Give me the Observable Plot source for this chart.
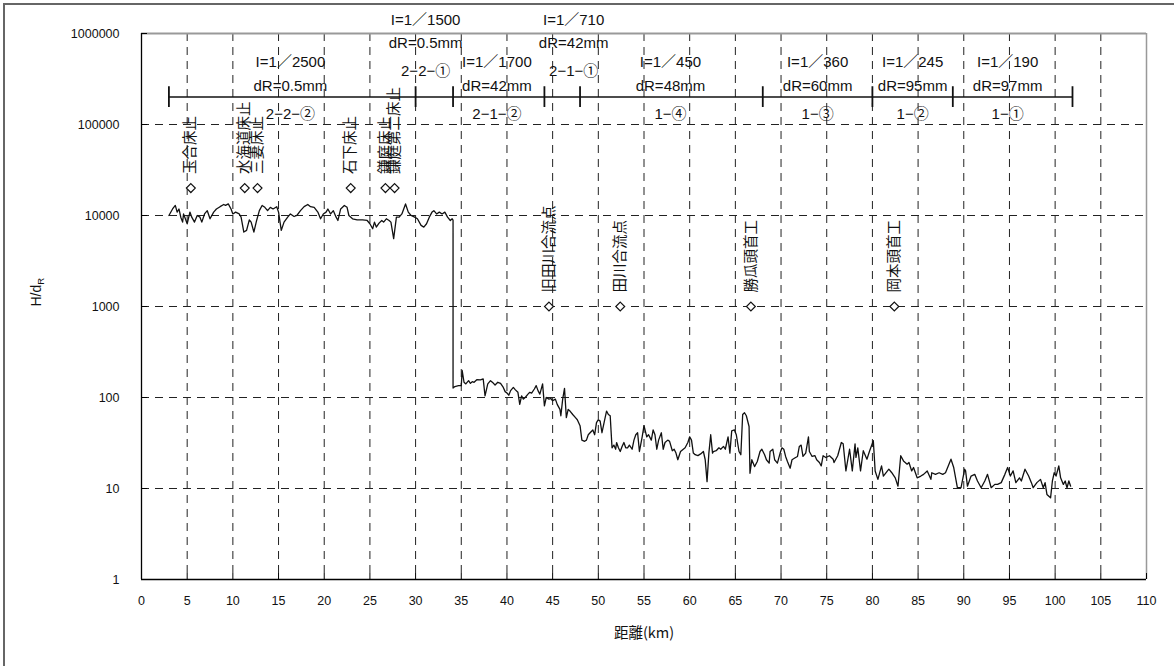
<!DOCTYPE html>
<html>
<head>
<meta charset="utf-8">
<script src="https://cdn.jsdelivr.net/npm/d3@7"></script>
<script src="https://cdn.jsdelivr.net/npm/@observablehq/plot@0.6"></script>
<style>
  html, body { margin: 0; padding: 0; background: #fff; }
  #wrap { position: relative; width: 1174px; height: 666px; overflow: hidden; }
  #chart svg { display: block; }
  #border { position: absolute; left: 3px; top: 3px; width: 1200px; height: 700px;
            border-left: 2px solid #666; border-top: 2px solid #666; pointer-events: none; }
</style>
</head>
<body>
<div id="wrap"><div id="chart"></div><div id="border"></div></div>
<script>
// Distance from the river mouth (km) and the H/dR ratio along the channel
const km = [
  3.0, 3.4, 3.7, 3.9, 4.1, 4.3, 4.5, 4.6, 4.8, 5.0, 5.3, 5.5, 5.8, 6.1, 6.4, 6.6, 6.9, 7.2, 7.5, 7.9,
  8.2, 8.6, 9.0, 9.2, 9.5, 9.8, 10.0, 10.3, 10.7, 10.9, 11.2, 11.5, 11.8, 12.0, 12.3, 12.6, 12.9, 13.2, 13.5, 13.8,
  14.1, 14.4, 14.8, 15.0, 15.3, 15.6, 16.0, 16.3, 16.7, 17.0, 17.4, 17.8, 18.2, 18.5, 18.9, 19.3, 19.6, 19.9, 20.2, 20.4,
  20.7, 21.0, 21.3, 21.5, 21.8, 22.2, 22.5, 22.7, 23.1, 23.6, 24.2, 24.7, 25.0, 25.3, 25.5, 25.7, 26.0, 26.3, 26.5, 26.8,
  27.1, 27.3, 27.6, 27.9, 28.2, 28.5, 28.9, 29.2, 29.5, 29.9, 30.2, 30.6, 30.9, 31.2, 31.5, 31.8, 32.0, 32.3, 32.6, 32.9,
  33.2, 33.5, 33.8, 34.0, 34.1,
  34.1, 34.3, 34.7, 35.0, 35.1, 35.3, 35.5, 35.8, 36.0, 36.2, 36.4, 36.7, 37.1, 37.4, 37.6, 37.9, 38.2, 38.5, 38.7, 39.0,
  39.3, 39.6, 39.8, 40.0, 40.2, 40.4, 40.7, 40.9, 41.2, 41.4, 41.6, 41.8, 42.0, 42.3, 42.5, 42.7, 43.0, 43.2, 43.4, 43.6,
  43.8, 43.9, 44.1, 44.3, 44.6, 44.8, 45.0, 45.3, 45.5, 45.8, 45.9, 46.1, 46.3, 46.5, 46.7, 46.9, 47.2, 47.5, 47.7, 48.0,
  48.2, 48.5, 48.7, 48.9, 49.1, 49.4, 49.6, 49.8, 50.0, 50.2, 50.4, 50.7, 50.9, 51.1, 51.3, 51.5, 51.7, 51.9, 52.0, 52.2,
  52.4, 52.6, 52.8, 53.0, 53.2, 53.4, 53.7, 53.9, 54.1, 54.3, 54.5, 54.8, 55.0, 55.3, 55.5, 55.8, 56.0, 56.2, 56.4, 56.6,
  56.9, 57.1, 57.3, 57.6, 57.8, 58.1, 58.3, 58.5, 58.7, 59.0, 59.3, 59.5, 59.8, 60.0, 60.2, 60.4, 60.6, 60.9, 61.2, 61.5,
  61.7, 61.9, 62.1, 62.3, 62.5, 62.6, 62.9, 63.2, 63.4, 63.7, 63.9, 64.2, 64.4, 64.6, 64.9, 65.1, 65.4, 65.6, 65.8, 66.0,
  66.2, 66.5, 66.6, 66.8, 67.1, 67.4, 67.7, 67.9, 68.2, 68.4, 68.7, 68.8, 69.1, 69.3, 69.6, 69.9, 70.1, 70.3, 70.5, 70.7,
  71.0, 71.2, 71.5, 71.8, 72.0, 72.2, 72.4, 72.7, 73.0, 73.1, 73.4, 73.7, 73.9, 74.2,
  74.4, 74.6, 74.9, 75.3, 75.7, 75.8, 76.2, 76.6, 76.8, 77.1, 77.5, 77.8, 78.1, 78.2, 78.4, 78.7, 79.0, 79.4, 79.7, 80.1,
  80.3, 80.6, 81.0, 81.2, 81.8, 82.1, 82.5, 82.8, 83.1, 83.4, 83.8, 84.0, 84.3, 84.5, 84.9, 85.3, 85.6, 86.0, 86.4, 86.5,
  86.9, 87.3, 87.7, 88.0, 88.6, 88.9, 89.3, 89.7, 90.1, 90.2, 90.4, 90.8, 91.2, 91.5, 91.9, 92.3, 92.6, 93.0, 93.4, 93.7,
  94.1, 94.5, 94.8, 95.1, 95.4, 95.7, 96.1, 96.3, 96.7, 97.1, 97.4, 97.6, 98.0, 98.4, 98.7, 98.9, 99.1, 99.5, 99.7, 99.9,
  100.1, 100.4, 100.6, 100.9, 101.1, 101.3, 101.5, 101.7
];
const hdr = [
  10000, 11800, 12900, 10900, 11800, 9590, 8460, 10400, 9200, 8110, 10900, 9590, 8460, 10000, 9590, 8460, 10400, 11300, 9200, 10900,
  11800, 12500, 13200, 12900, 13400, 11800, 10400, 10900, 10400, 9590, 6580, 6860, 8970, 8460, 6580, 8820, 11300, 12900, 12300, 11300,
  12300, 11800, 12500, 10900, 6860, 8460, 9590, 10400, 9750, 10000, 11300, 12500, 13200, 12500, 12300, 10900, 9200, 10400, 10900, 11800,
  10400, 11300, 9590, 8820, 11800, 12900, 12300, 10000, 9200, 8970, 8970, 8820, 8110, 7150, 8460, 7460, 8250, 8820, 8460, 9200,
  8820, 8460, 5560, 9590, 9590, 10400, 13400, 10900, 10000, 9590, 9200, 7780, 7460, 8110, 9590, 10900, 11300, 10400, 10900, 10400,
  10900, 9590, 8820, 9200, 8900,
  127, 132, 135, 135, 198, 147, 141, 153, 143, 149, 147, 157, 156, 160, 104, 141, 153, 144, 137, 147,
  143, 129, 116, 112, 106, 119, 129, 122, 114, 84, 104, 96, 100, 109, 114, 112, 124, 135, 119, 109,
  129, 141, 81, 100, 96, 97.5, 92, 96, 84, 74, 63, 96, 126, 60, 74, 71, 65, 60, 57, 49,
  34, 33, 34, 39, 41, 44, 39, 53, 57, 55, 41, 57, 71, 65, 63, 28, 30, 27, 32, 28,
  25.5, 29, 32, 28, 28, 30, 27, 34, 39, 41, 25.5, 37, 49, 37, 39, 34, 44, 39, 27, 34,
  41, 27, 32, 34, 33, 26, 27, 24.5, 20.7, 25.5, 27, 28, 32, 37, 34, 24.5, 23.5, 23, 24, 25.5,
  20.7, 11.9, 24.5, 39, 24.5, 25.5, 26, 28, 27, 29, 27, 37, 24.5, 43, 44, 39, 25.5, 23.5, 65, 68,
  63, 48, 14.7, 20.7, 17.4, 19.8, 25.5, 27, 23.5, 20.7, 19, 25.5, 27, 20.7, 19, 24.5, 28, 27, 22.5, 19.8,
  16.7, 20.7, 21.6, 22.5, 29, 30, 22.5, 24.5, 37, 25.5, 22.5, 23, 20.7, 19.3,
  17.7, 22.9, 21.9, 22.9, 21, 19.3, 22.9, 32, 31, 15.6, 27, 15.6, 31, 22, 28, 15.6, 26, 21, 26, 33.5,
  15.6, 12.6, 17.7, 13.7, 16.3, 15, 13.1, 10.6, 22.9, 20.1, 18.5, 19.3, 15.6, 17, 13.1, 13.7, 14.3, 15.6, 12.6, 14.9,
  14.3, 14.9, 14.3, 14.9, 21, 17, 10.2, 10.2, 16.3, 15.6, 10.6, 13.7, 14.3, 12.1, 10.2, 12.1, 14.3, 10.2, 11.1, 11.1,
  11.6, 14.3, 17, 13.7, 15.6, 11.6, 13.1, 12.1, 16.3, 13.7, 11.6, 10.2, 11.6, 12.6, 10.2, 11.6, 8.6, 7.9, 12.1, 14.9,
  13.7, 17.7, 13.1, 11.1, 12.1, 10.2, 12.1, 10.6
];

// Axis ticks
const xTicks = d3.range(0, 111, 5);
const yTicks = [1, 10, 100, 1000, 10000, 100000, 1000000];

// Reach segments: boundaries (km), bed slope, representative grain size, segment name
const sectionBounds = [3.0, 30.0, 34.1, 44.1, 48.0, 68.0, 80.0, 88.8, 101.9];
const sectionSlope = ["I=1／2500", "I=1／1500", "I=1／1700", "I=1／710", "I=1／450", "I=1／360", "I=1／245", "I=1／190"];
const sectionDr = ["dR=0.5mm", "dR=0.5mm", "dR=42mm", "dR=42mm", "dR=48mm", "dR=60mm", "dR=95mm", "dR=97mm"];
const sectionName = ["2−2−②", "2−2−①", "2−1−②", "2−1−①", "1−④", "1−③", "1−②", "1−①"];
const sectionLabelKm = [16.3, 31.1, 38.9, 47.3, 57.9, 74.0, 84.4, 94.8];
const sectionRaised = [false, true, false, true, false, false, false, false];
const sectionLevel = 2e5;
const rowLevels = { normal: [4.8e5, 2.65e5, 1.29e5], raised: [1.39e6, 7.8e5, 3.85e5] };

// Weirs / confluences / intake works along the river
const weirKm = [5.4, 11.3, 12.7, 22.9, 26.7, 27.7];
const weirName = ["玉合床止", "水海道床止", "三妻床止", "石下床止", "鎌庭床止", "鎌庭第二床止"];
const weirLevel = 2e4;
const pointKm = [44.6, 52.4, 66.7, 82.4];
const pointName = ["旧田川合流点", "田川合流点", "勝瓜頭首工", "岡本頭首工"];
const pointLevel = 1000;

const W = 1174, H = 666, ML = 141, MR = 28, MT = 33, MB = 87;
const innerW = W - ML - MR, innerH = H - MT - MB;

const series = km.map((k, i) => ({ km: k, v: hdr[i] }));
const sections = sectionName.map((n, i) => ({
  name: n, slope: sectionSlope[i], dr: sectionDr[i], x: sectionLabelKm[i],
  rows: sectionRaised[i] ? rowLevels.raised : rowLevels.normal
}));
const weirs = weirKm.map((k, i) => ({ km: k, name: weirName[i] }));
const points = pointKm.map((k, i) => ({ km: k, name: pointName[i] }));

const labelFont = "'Liberation Sans', 'Noto Sans CJK JP', sans-serif";
const cjkFont = "'Noto Sans CJK JP', sans-serif";
const dash = "8,6";

const chart = Plot.plot({
  width: W, height: H,
  marginLeft: ML, marginRight: MR, marginTop: MT, marginBottom: MB,
  x: { domain: [0, 110], axis: null },
  y: { type: "log", domain: [1, 1e6], axis: null },
  style: { fontFamily: labelFont, fontSize: "13px", color: "#111", background: "transparent", overflow: "visible" },
  marks: [
    // dashed grid
    Plot.ruleX(xTicks.filter(d => d > 0 && d < 110), { x: d => d, stroke: "#222", strokeWidth: 1, strokeDasharray: dash }),
    Plot.ruleY(yTicks.filter(d => d > 1 && d < 1e6), { y: d => d, stroke: "#222", strokeWidth: 1, strokeDasharray: dash }),
    // plot frame
    Plot.ruleY([1e6], { y: d => d, stroke: "#999", strokeWidth: 2 }),
    Plot.ruleX([110], { x: d => d, stroke: "#999", strokeWidth: 1.5 }),
    Plot.ruleX([0], { x: d => d, stroke: "#000", strokeWidth: 1.3 }),
    Plot.ruleY([1], { y: d => d, stroke: "#000", strokeWidth: 1.3 }),
    // inward tick marks
    Plot.tickY(yTicks, { y: d => d, insetRight: innerW - 6, stroke: "#000" }),
    Plot.tickX(xTicks, { x: d => d, insetTop: innerH - 6, stroke: "#000" }),
    Plot.axisX({ ticks: xTicks, tickSize: 0, tickPadding: 17, label: null, fontSize: 12.5 }),
    Plot.axisY({ ticks: yTicks, tickSize: 0, tickPadding: 22, label: null, fontSize: 12.5, tickFormat: d => String(d) }),
    // H/dR profile
    Plot.line(series, { x: "km", y: "v", stroke: "#111", strokeWidth: 1.3 }),
    // segment bar
    Plot.ruleY([sectionLevel], { y: d => d, x1: sectionBounds[0], x2: sectionBounds[sectionBounds.length - 1], stroke: "#111", strokeWidth: 1.5 }),
    Plot.ruleX(sectionBounds, { x: d => d, y1: sectionLevel / 1.3, y2: sectionLevel * 1.3, stroke: "#111", strokeWidth: 1.8 }),
    Plot.text(sections, { x: "x", y: d => d.rows[0], text: "slope", fontSize: 15, fontFamily: labelFont, fill: "#111" }),
    Plot.text(sections, { x: "x", y: d => d.rows[1], text: "dr", fontSize: 15, fontFamily: labelFont, fill: "#111" }),
    Plot.text(sections, { x: "x", y: d => d.rows[2], text: "name", fontSize: 15, fontFamily: labelFont, fill: "#111" }),
    // structures
    Plot.dot(weirs, { x: "km", y: d => weirLevel, symbol: "diamond2", r: 4, stroke: "#111", strokeWidth: 1.2, fill: "white" }),
    Plot.text(weirs, { x: "km", y: d => weirLevel, text: "name", rotate: -90, textAnchor: "start", dy: -14, fontSize: 14.5, fontFamily: cjkFont, fill: "#111" }),
    Plot.dot(points, { x: "km", y: d => pointLevel, symbol: "diamond2", r: 4, stroke: "#111", strokeWidth: 1.2, fill: "white" }),
    Plot.text(points, { x: "km", y: d => pointLevel, text: "name", rotate: -90, textAnchor: "start", dy: -14, fontSize: 14.5, fontFamily: cjkFont, fill: "#111" }),
    // axis titles
    Plot.text(["距離(km)"], { frameAnchor: "bottom", dy: 58, text: d => d, fontSize: 14.5, fontFamily: cjkFont, fill: "#111" }),
    Plot.text(["H/dR"], { frameAnchor: "left", dx: -105, rotate: -90, text: d => d, fontSize: 14, fontFamily: labelFont, fill: "#111" })
  ]
});

document.getElementById("chart").appendChild(chart);

// subscript R in the y-axis title
d3.select(chart).selectAll("text")
  .filter(function () { return this.textContent === "H/dR"; })
  .each(function () {
    const t = d3.select(this);
    t.text(null);
    t.append("tspan").text("H/d");
    t.append("tspan").attr("font-size", "9.5px").attr("dy", "0.3em").text("R");
  });
</script>
</body>
</html>
